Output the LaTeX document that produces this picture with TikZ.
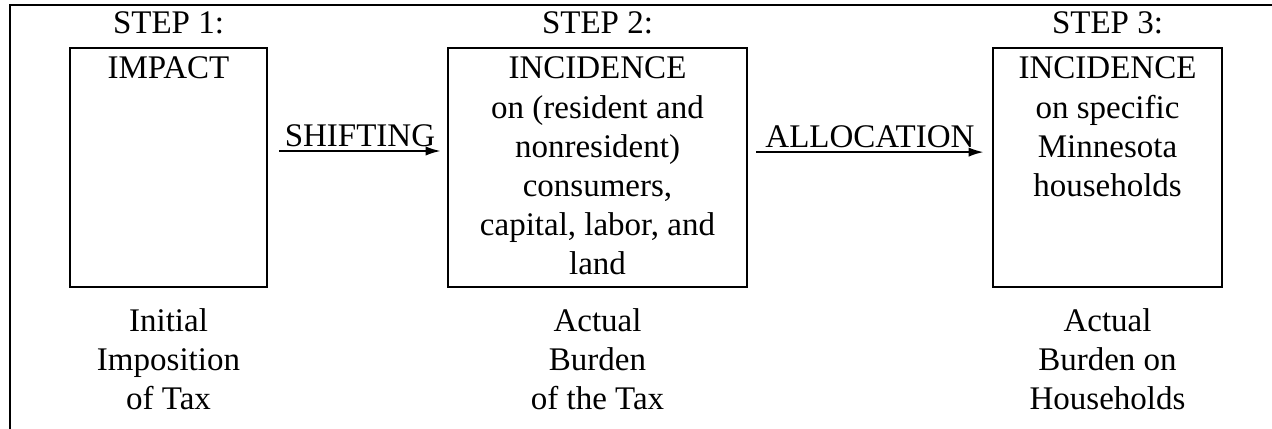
\documentclass[tikz,border=0pt]{standalone}
\usepackage{fontspec}
\setmainfont{Liberation Serif}
\usetikzlibrary{positioning,arrows.meta}

\begin{document}
\begin{tikzpicture}[x=0.3636pt,y=-0.3636pt,
  font=\fontsize{12}{14.2}\selectfont,
  stepbox/.style={draw,line width=0.95pt,inner sep=0pt,minimum height=86.9pt},
  boxtext/.style={align=center,inner sep=0pt},
  flow/.style={line width=0.7pt,-{Latex[length=5.5pt,width=3.4pt]}},
  flowlabel/.style={above=1.3pt,inner sep=0pt}]
  \useasboundingbox (0,0) rectangle (1272,429);

  % Rahmen
  \draw[line width=1pt] (10,429) -- (10,5) -- (1272,5);

  % Kasten
  \node[stepbox,minimum width=71.6pt] (impact) at (168.5,167.5) {};
  \node[stepbox,minimum width=108.7pt] (incidence) at (597.5,167.5) {};
  \node[stepbox,minimum width=83.3pt] (households) at (1107.5,167.5) {};

  % Schritte
  \node[boxtext,above=4.3pt of impact.north] (step1) {STEP 1:};
  \node[boxtext,above=4.3pt of incidence.north] (step2) {STEP 2:};
  \node[boxtext,above=4.3pt of households.north] (step3) {STEP 3:};

  % Inhalt
  \node[boxtext,below=3.6pt of impact.north] (impacttext) {IMPACT};
  \node[boxtext,below=3.6pt of incidence.north] (incidencetext)
    {INCIDENCE\\on (resident and\\nonresident)\\consumers,\\capital, labor, and\\land};
  \node[boxtext,below=3.6pt of households.north] (householdstext)
    {INCIDENCE\\on specific\\Minnesota\\households};

  % Unten
  \node[boxtext,below=7pt of impact.south] (initial) {Initial\\Imposition\\of Tax};
  \node[boxtext,below=7pt of incidence.south] (actual) {Actual\\Burden\\of the Tax};
  \node[boxtext,below=7pt of households.south] (burden) {Actual\\Burden on\\Households};

  % Pfeile
  \draw[flow] ([xshift=4pt,yshift=6pt]impact.east) -- ([xshift=-2.2pt,yshift=6pt]incidence.west)
    node[midway,flowlabel] {SHIFTING};
  \draw[flow] ([xshift=2.9pt,yshift=5.6pt]incidence.east) -- ([xshift=-2.9pt,yshift=5.6pt]households.west)
    node[midway,flowlabel] {ALLOCATION};
\end{tikzpicture}
\end{document}
